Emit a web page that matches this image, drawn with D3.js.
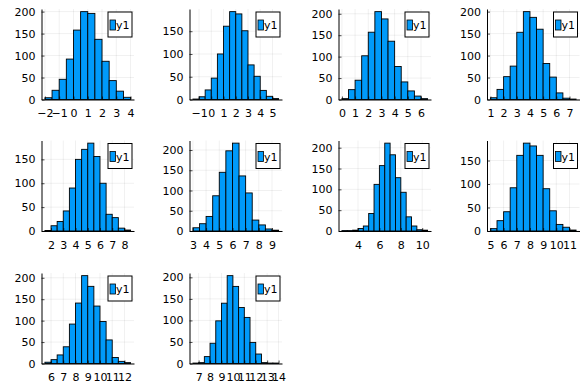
<!DOCTYPE html>
<html>
<head>
<meta charset="utf-8">
<script src="https://cdn.jsdelivr.net/npm/d3@7"></script>
<style>
  body { margin: 0; background: #fff; }
  text { font-family: "DejaVu Sans", sans-serif; font-size: 11px; fill: #000; }
</style>
</head>
<body>
<div id="chart"></div>
<script>
// histogram data, bins are 0.5 wide
var binWidth = 0.5;
var binStarts = [-2, -1.5, 0, 1, 1.5, 3, 2.5, 5, 5.5, 6.5];

var counts1 = [4, 21, 46, 92, 158, 200, 196, 137, 87, 43, 19, 5];
var counts2 = [1, 6, 21, 47, 100, 161, 193, 188, 151, 76, 51, 20, 7, 2];
var counts3 = [2, 23, 45, 102, 157, 205, 188, 136, 77, 41, 20, 8, 2];
var counts4 = [4, 23, 52, 76, 153, 200, 187, 160, 82, 51, 15, 3, 1];
var counts5 = [1, 11, 20, 42, 90, 150, 171, 184, 156, 100, 35, 28, 6, 2];
var counts6 = [8, 18, 36, 87, 145, 198, 217, 136, 94, 27, 15, 5, 2];
var counts7 = [1, 1, 2, 6, 12, 42, 112, 157, 211, 183, 128, 93, 34, 12, 3, 2];
var counts8 = [5, 22, 41, 92, 161, 187, 181, 161, 90, 43, 14, 8, 2];
var counts9 = [3, 9, 20, 39, 92, 141, 205, 180, 134, 98, 55, 14, 5, 2];
var counts10 = [1, 2, 16, 47, 99, 140, 204, 179, 130, 107, 49, 22, 2, 1, 1];

var xTicks1 = [-2, -1, 0, 1, 2, 3, 4];
var xTicks2 = [-1, 0, 1, 2, 3, 4, 5];
var xTicks3 = [0, 1, 2, 3, 4, 5, 6];
var xTicks4 = [1, 2, 3, 4, 5, 6, 7];
var xTicks5 = [2, 3, 4, 5, 6, 7, 8];
var xTicks6 = [3, 4, 5, 6, 7, 8, 9];
var xTicks7 = [4, 6, 8, 10];
var xTicks8 = [5, 6, 7, 8, 9, 10, 11];
var xTicks9 = [6, 7, 8, 9, 10, 11, 12];
var xTicks10 = [7, 8, 9, 10, 11, 12, 13, 14];

var yTicks = [0, 50, 100, 150, 200];
var seriesLabel = "y1";

var allCounts = [counts1, counts2, counts3, counts4, counts5, counts6, counts7, counts8, counts9, counts10];
var allXTicks = [xTicks1, xTicks2, xTicks3, xTicks4, xTicks5, xTicks6, xTicks7, xTicks8, xTicks9, xTicks10];

// layout of the 3x4 grid
var width = 586, height = 388;
var colLeft = [41.5, 189.5, 338.5, 487];
var rowTop = [9, 140.5, 273];
var plotW = 92.5, plotH = 90.5;
var barColor = "#009afa";
var fmt = d3.format("d");

var svg = d3.select("#chart")
    .append("svg")
    .attr("width", width)
    .attr("height", height);

allCounts.forEach(function (counts, i) {
    var col = i % 4, row = Math.floor(i / 4);
    var start = binStarts[i];
    var end = start + counts.length * binWidth;
    var pad = 0.04 * (end - start);
    var ymax = d3.max(counts) * 1.03;

    var bins = counts.map(function (c, j) {
        return {x0: start + j * binWidth, x1: start + (j + 1) * binWidth, n: c};
    });

    var x = d3.scaleLinear().domain([start - pad, end + pad]).range([0, plotW]);
    var y = d3.scaleLinear().domain([0, ymax]).range([plotH, 0]);
    var yt = yTicks.filter(function (t) { return t <= ymax; });

    var g = svg.append("g")
        .attr("transform", "translate(" + colLeft[col] + "," + rowTop[row] + ")");

    // grid
    g.selectAll(".gx")
        .data(allXTicks[i])
        .enter()
        .append("line")
        .attr("x1", function (d) { return x(d); })
        .attr("x2", function (d) { return x(d); })
        .attr("y1", 0)
        .attr("y2", plotH)
        .attr("stroke", "#000")
        .attr("stroke-opacity", 0.1)
        .attr("stroke-width", 0.6);

    g.selectAll(".gy")
        .data(yt)
        .enter()
        .append("line")
        .attr("x1", 0)
        .attr("x2", plotW)
        .attr("y1", function (d) { return y(d); })
        .attr("y2", function (d) { return y(d); })
        .attr("stroke", "#000")
        .attr("stroke-opacity", 0.1)
        .attr("stroke-width", 0.6);

    // bars
    g.selectAll(".bar")
        .data(bins)
        .enter()
        .append("rect")
        .attr("x", function (d) { return x(d.x0); })
        .attr("y", function (d) { return y(d.n); })
        .attr("width", function (d) { return x(d.x1) - x(d.x0); })
        .attr("height", function (d) { return y(0) - y(d.n); })
        .attr("fill", barColor)
        .attr("stroke", "#000")
        .attr("stroke-width", 0.9);

    // axes
    var xAxis = g.append("g")
        .attr("transform", "translate(0," + plotH + ")")
        .call(d3.axisBottom(x).tickValues(allXTicks[i]).tickFormat(fmt)
            .tickSizeInner(-3).tickSizeOuter(0).tickPadding(10));
    var yAxis = g.append("g")
        .call(d3.axisLeft(y).tickValues(yt).tickFormat(fmt)
            .tickSizeInner(-3).tickSizeOuter(0).tickPadding(6));

    [xAxis, yAxis].forEach(function (a) {
        a.attr("font-size", null).attr("font-family", null);
        a.select(".domain").attr("stroke", "#000").attr("stroke-width", 1);
        a.selectAll(".tick line").attr("stroke", "#000").attr("stroke-width", 0.7);
    });

    // legend
    var lg = g.append("g")
        .attr("transform", "translate(" + (plotW - 26) + ",3)");
    lg.append("rect")
        .attr("width", 24)
        .attr("height", 25)
        .attr("fill", "#fff")
        .attr("stroke", "#000")
        .attr("stroke-width", 1);
    lg.append("rect")
        .attr("x", 2)
        .attr("y", 8)
        .attr("width", 5.5)
        .attr("height", 10)
        .attr("fill", barColor)
        .attr("stroke", "#000")
        .attr("stroke-width", 0.8);
    lg.append("text")
        .attr("x", 8)
        .attr("y", 13.5)
        .attr("dy", "0.35em")
        .text(seriesLabel);
});
</script>
</body>
</html>
